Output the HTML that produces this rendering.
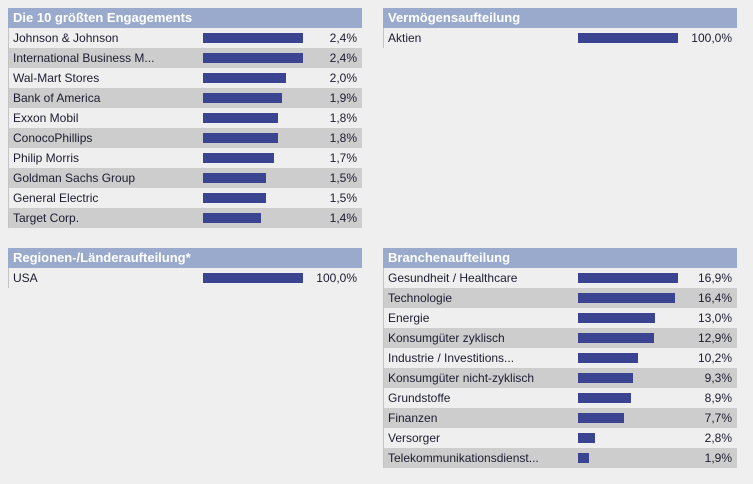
<!DOCTYPE html>
<html><head><meta charset="utf-8"><style>
body{margin:0;width:753px;height:484px;background:#efefef;font-family:"Liberation Sans",sans-serif;position:relative;overflow:hidden}
.panel{position:absolute;width:354px}
.hd{height:20px;background:#9aaacd;color:#fff;font-weight:bold;font-size:13px;line-height:20px;padding-left:5px;box-sizing:border-box}
.row{height:20px;position:relative;font-size:12px;color:#1c1c30;line-height:20px;border-left:1px solid #c4c4c4;box-sizing:border-box}
.row .lbl{position:absolute;left:4px}
.row .bar{position:absolute;left:194px;top:5px;height:10px;background:#3a4490}
.row .val{position:absolute;right:5px}
.row:nth-child(odd){background:#efefef}.row:nth-child(even){background:#cdcdcd}
</style></head><body>
<div class="panel" style="left:8px;top:8px"><div class="hd">Die 10 größten Engagements</div><div id="p1"></div></div>
<div class="panel" style="left:383px;top:8px"><div class="hd">Vermögensaufteilung</div><div id="p2"></div></div>
<div class="panel" style="left:8px;top:248px"><div class="hd">Regionen-/Länderaufteilung*</div><div id="p3"></div></div>
<div class="panel" style="left:383px;top:248px"><div class="hd">Branchenaufteilung</div><div id="p4"></div></div>
<script>
const holdingNames=["Johnson & Johnson","International Business M...","Wal-Mart Stores","Bank of America","Exxon Mobil","ConocoPhillips","Philip Morris","Goldman Sachs Group","General Electric","Target Corp."];
const holdingValues=[2.4,2.4,2.0,1.9,1.8,1.8,1.7,1.5,1.5,1.4];
const assetNames=["Aktien"];
const assetValues=[100.0];
const regionNames=["USA"];
const regionValues=[100.0];
const sectorNames=["Gesundheit / Healthcare","Technologie","Energie","Konsumgüter zyklisch","Industrie / Investitions...","Konsumgüter nicht-zyklisch","Grundstoffe","Finanzen","Versorger","Telekommunikationsdienst..."];
const sectorValues=[16.9,16.4,13.0,12.9,10.2,9.3,8.9,7.7,2.8,1.9];
function build(id,names,vals){
  const c=document.getElementById(id);
  const mx=Math.max(...vals);
  names.forEach((n,i)=>{
    const r=document.createElement('div');r.className='row';
    
    
    const l=document.createElement('span');l.className='lbl';l.textContent=n;
    
    
    const b=document.createElement('div');b.className='bar';b.style.width=Math.round(vals[i]/mx*100)+'px';
    
    
    const v=document.createElement('span');v.className='val';v.textContent=vals[i].toFixed(1).replace('.',',')+'%';
    
    
    r.append(l,b,v);c.appendChild(r);
  });
}
build('p1',holdingNames,holdingValues);
build('p2',assetNames,assetValues);
build('p3',regionNames,regionValues);
build('p4',sectorNames,sectorValues);
</script>
</body></html>
